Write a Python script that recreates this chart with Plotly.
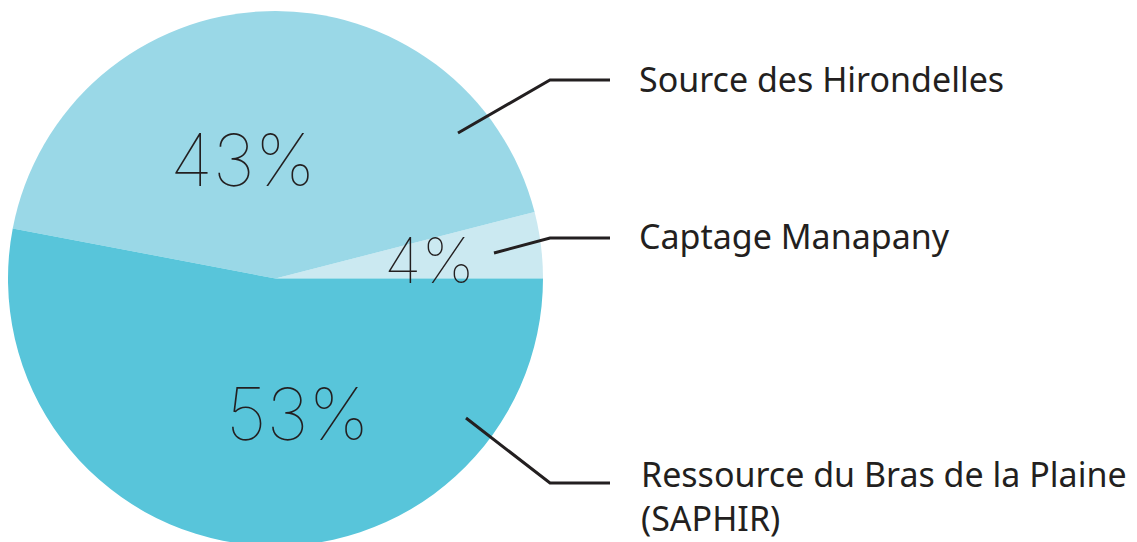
import plotly.graph_objects as go

labels = ["Captage Manapany", "Source des Hirondelles", "Ressource du Bras de la Plaine<br>(SAPHIR)"]
values = [4, 43, 53]
colors = ["#CBE9F1", "#9AD8E7", "#58C5DA"]

# the page body has an 8px margin; work in reference-pixel coordinates
OFF = 8
cx, cy, r = 275.5, 278.5, 267.5
W, H = 1137 - OFF, int(round(cy + r)) - OFF

def px(x):
    return (x - OFF) / W

def py(y):
    return 1 - (y - OFF) / H

total = sum(values)
fig = go.Figure()
fig.add_trace(go.Pie(
    labels=labels, values=values, sort=False, direction="counterclockwise",
    rotation=90 - 360 * values[0] / total,
    marker=dict(colors=colors, line=dict(width=0)),
    textinfo="none", hoverinfo="label+percent", showlegend=False,
    domain=dict(x=[px(cx - r), px(cx + r)], y=[max(0, py(cy + r)), py(cy - r)]),
))

ink = "#231F20"
# percentage labels (position per slice)
pct_pos = [(429, 260), (243, 159), (297, 413)]
pct_size = [63, 72, 72]
for v, (x, y), s in zip(values, pct_pos, pct_size):
    fig.add_annotation(x=px(x), y=py(y), xref="paper", yref="paper",
                       xanchor="center", yanchor="middle",
                       text=f"{round(100*v/total)}%", showarrow=False,
                       font=dict(family="Inter", size=s, color=ink, weight=100))

# leader lines and outside labels
leaders = [
    [(494, 253), (550, 238), (610, 238)],
    [(458, 133), (550, 80), (610, 80)],
    [(466, 418), (550, 483), (610, 483)],
]
label_pos = [(637, 236), (637, 79), (639, 496)]
for pts, lab, (lx, ly) in zip(leaders, labels, label_pos):
    path = "M " + " L ".join(f"{px(x)},{py(y)}" for x, y in pts)
    fig.add_shape(type="path", path=path, xref="paper", yref="paper",
                  line=dict(color=ink, width=3))
    fig.add_annotation(x=px(lx), y=py(ly), xref="paper", yref="paper",
                       text=lab, showarrow=False, xanchor="left", yanchor="middle",
                       align="left",
                       font=dict(family="Noto Sans", size=34, color=ink))

fig.update_layout(width=W, height=H, margin=dict(l=0, r=0, t=0, b=0),
                  paper_bgcolor="white", plot_bgcolor="white")
fig.write_html("out.html")
